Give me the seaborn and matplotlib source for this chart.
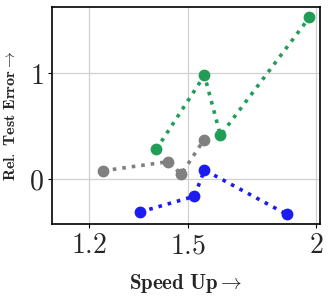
import matplotlib
matplotlib.use("Agg")
import matplotlib.pyplot as plt
import seaborn as sns
import pandas as pd
from matplotlib.ticker import NullLocator, FixedLocator, FixedFormatter

# Data
green_x = [1.395, 1.555, 1.612, 1.970]
green_y = [0.283, 0.981, 0.415, 1.528]
gray_x = [1.238, 1.431, 1.476, 1.552]
gray_y = [0.081, 0.166, 0.050, 0.368]
blue_x = [1.345, 1.520, 1.555, 1.872]
blue_y = [-0.308, -0.160, 0.088, -0.330]

x_ticks = [1.2, 1.5, 2]
x_tick_labels = [r"$1.2$", r"$1.5$", r"$2$"]
y_ticks = [0, 1]
y_tick_labels = [r"$0$", r"$\mathbf{1}$"]

series_names = ["green", "gray", "blue"]
colors = {"green": "#219d58", "gray": "#808080", "blue": "#1c1cf0"}

rows = []
for name, xs, ys in [("green", green_x, green_y), ("gray", gray_x, gray_y), ("blue", blue_x, blue_y)]:
    for i, (x, y) in enumerate(zip(xs, ys)):
        rows.append({"series": name, "order": i, "x": x, "y": y})
df = pd.DataFrame(rows)

sns.set_theme(style="white")
plt.rcParams["mathtext.fontset"] = "cm"
plt.rcParams["font.family"] = ["DejaVu Serif"]

fig, ax = plt.subplots(figsize=(3.29, 2.96), dpi=100)
fig.subplots_adjust(left=0.157, right=0.973, top=0.976, bottom=0.243)

for name in series_names:
    sub = df[df["series"] == name]
    sns.lineplot(data=sub, x="x", y="y", sort=False, ax=ax, color=colors[name],
                 linestyle=":", linewidth=2.6, marker="o", markersize=8.5,
                 markeredgewidth=0, estimator=None, legend=False)

ax.set_xscale("log")
ax.set_xlim(1.102, 2.018)
ax.set_ylim(-0.422, 1.625)
ax.xaxis.set_major_locator(FixedLocator(x_ticks))
ax.xaxis.set_major_formatter(FixedFormatter(x_tick_labels))
ax.xaxis.set_minor_locator(NullLocator())
ax.set_yticks(y_ticks)
ax.set_yticklabels(y_tick_labels)

ax.grid(True, color="#d0d0d0", linewidth=0.9)
ax.set_axisbelow(True)
for s in ax.spines.values():
    s.set_color("black")
    s.set_linewidth(1.2)
ax.tick_params(axis="both", which="major", direction="out", length=3, width=0.8,
               color="black", labelsize=20, pad=3, bottom=True, left=True)

ax.set_xlabel(r"$\mathbf{Speed\ Up} \rightarrow$", fontsize=15, labelpad=9)
ax.set_ylabel(r"$\mathbf{Rel.\ Test\ Error} \rightarrow$", fontsize=11.5, labelpad=7)

fig.savefig("out.png", dpi=100)
